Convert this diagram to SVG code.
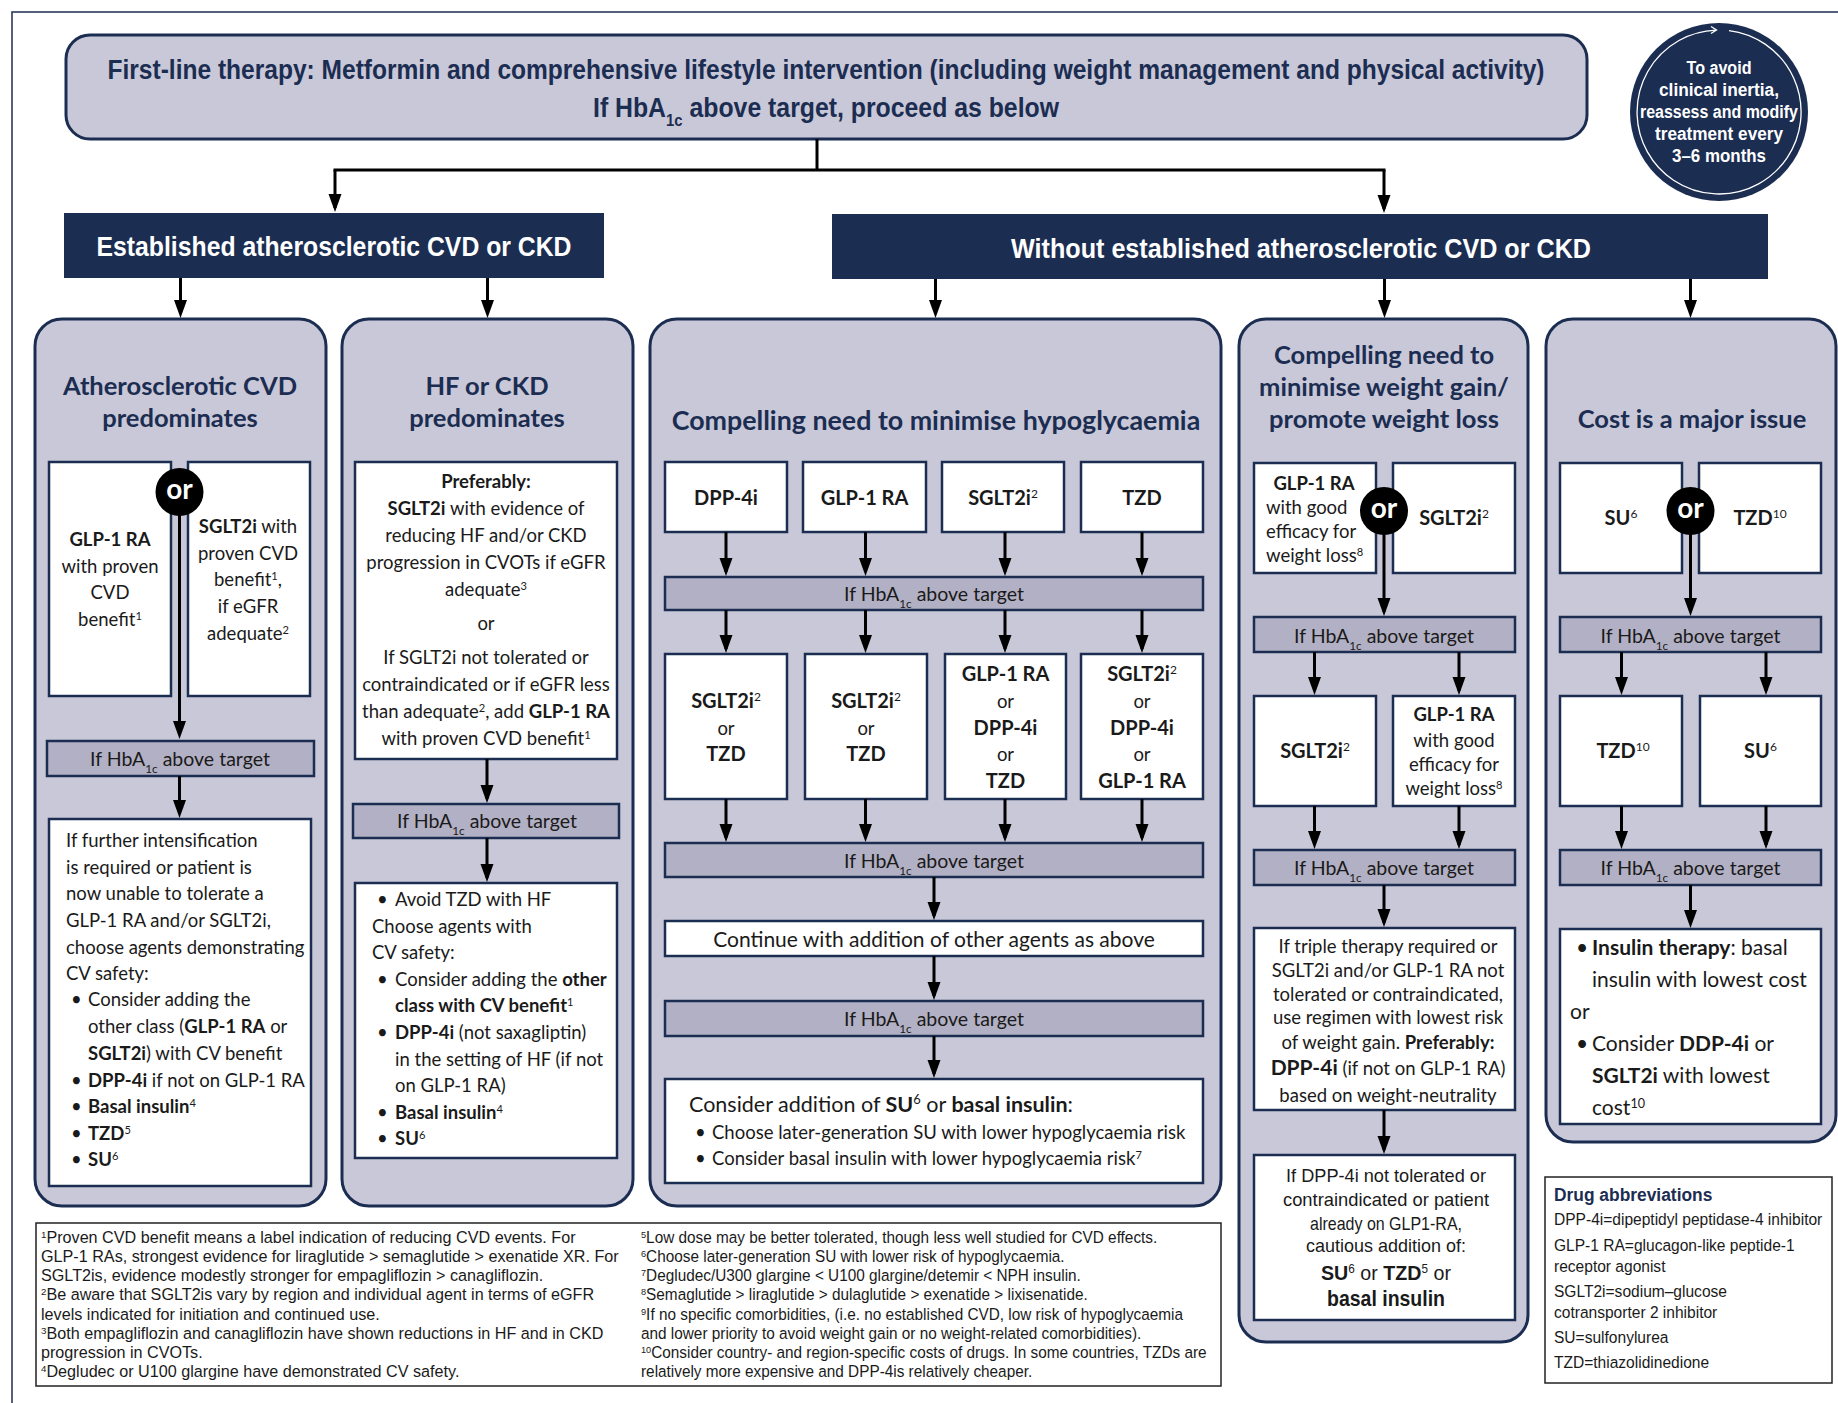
<svg xmlns="http://www.w3.org/2000/svg" width="1838" height="1403" viewBox="0 0 1838 1403">
<defs>
<style>
.frame{fill:none;stroke:#1c2d52;stroke-width:1.5}
.panel{fill:#c9c8d8;stroke:#1c2d52;stroke-width:3}
.bar{fill:#b2b0c4;stroke:#1c2d52;stroke-width:2.5}
.box{fill:#fff;stroke:#1c2d52;stroke-width:2.5}
.hdr{fill:#1c2d52}
.note{fill:#fff;stroke:#222;stroke-width:1.5}
.orc{fill:#000}
.ln{fill:none;stroke:#000;stroke-width:3}
.ar{fill:none;stroke:#000;stroke-width:3;marker-end:url(#ah)}
text{font-family:Lato,"Liberation Sans",sans-serif;fill:#1a1a1a}
.c{font-family:"Liberation Sans",Arial,sans-serif}
.m{text-anchor:middle}
.b{font-weight:bold}
.nv{fill:#1c2d52}
.w{fill:#fff}
.ttl{font-size:25.5px;font-weight:bold;fill:#1c2d52;text-anchor:middle}
.t{font-size:18.5px}
.dr{font-size:20px;font-weight:bold;text-anchor:middle}
.hb{font-size:19.5px;text-anchor:middle}
.or{font-size:28px;font-weight:bold;fill:#fff;text-anchor:middle}
.fn{font-size:16.5px}
.ab{font-size:17px}
.sup{font-size:0.6em;baseline-shift:super}
.sub{font-size:0.6em;baseline-shift:sub}
</style>
<marker id="ah" markerUnits="userSpaceOnUse" markerWidth="18" markerHeight="14" viewBox="0 0 18 14" refX="14" refY="7" orient="auto"><path d="M0,0.5 L18,7 L0,13.5 z" fill="#000"/></marker>
</defs>
<rect width="1838" height="1403" fill="#fff"/>
<path class="frame" d="M12,1403 V12 H1838"/>

<g id="first-line">
<rect x="66" y="35" width="1521" height="104" rx="24" class="panel"/>
<text class="c b m nv" x="826" y="79" font-size="27" textLength="1437" lengthAdjust="spacingAndGlyphs">First-line therapy: Metformin and comprehensive lifestyle intervention (including weight management and physical activity)</text>
<text class="c b m nv" x="826" y="117" font-size="27" textLength="466" lengthAdjust="spacingAndGlyphs">If HbA<tspan class="sub">1c</tspan> above target, proceed as below</text>
</g>

<g id="reassess">
<circle cx="1719" cy="112" r="89" fill="#1c2d52"/>
<path d="M1729,30.6 A82,82 0 1 1 1716.1,30.05" fill="none" stroke="#fff" stroke-width="1.3"/>
<path d="M1711,26.5 L1716.5,30 L1711,33.5" fill="none" stroke="#fff" stroke-width="1.3"/>
<text class="c b m w" font-size="17.5" x="1719" y="74" textLength="65" lengthAdjust="spacingAndGlyphs">To avoid</text>
<text class="c b m w" font-size="17.5" x="1719" y="96" textLength="120" lengthAdjust="spacingAndGlyphs">clinical inertia,</text>
<text class="c b m w" font-size="17.5" x="1719" y="118" textLength="158" lengthAdjust="spacingAndGlyphs">reassess and modify</text>
<text class="c b m w" font-size="17.5" x="1719" y="140" textLength="128" lengthAdjust="spacingAndGlyphs">treatment every</text>
<text class="c b m w" font-size="17.5" x="1719" y="162" textLength="94" lengthAdjust="spacingAndGlyphs">3–6 months</text>
</g>

<g id="established">
<rect x="64" y="213" width="540" height="65" class="hdr"/>
<text class="c b m w" font-size="28" x="334" y="256" textLength="475" lengthAdjust="spacingAndGlyphs">Established atherosclerotic CVD or CKD</text>
</g>
<g id="without">
<rect x="832" y="214" width="936" height="65" class="hdr"/>
<text class="c b m w" font-size="28" x="1301" y="258" textLength="580" lengthAdjust="spacingAndGlyphs">Without established atherosclerotic CVD or CKD</text>
</g>

<!-- Panel 1 -->
<g id="ascvd">
<rect x="35" y="319" width="291" height="887" rx="27" class="panel"/>
<text class="ttl" x="180" y="395">Atherosclerotic CVD</text>
<text class="ttl" x="180" y="427">predominates</text>
</g>
<g id="ascvd-glp1">
<rect x="49" y="462" width="122" height="234" class="box"/>
<text class="t m b" x="110" y="546">GLP-1 RA</text>
<text class="t m" x="110" y="573">with proven</text>
<text class="t m" x="110" y="599">CVD</text>
<text class="t m" x="110" y="626">benefit<tspan class="sup">1</tspan></text>
</g>
<g id="ascvd-sglt2">
<rect x="188" y="462" width="122" height="234" class="box"/>
<text class="t m" x="248" y="533"><tspan class="b">SGLT2i</tspan> with</text>
<text class="t m" x="248" y="560">proven CVD</text>
<text class="t m" x="248" y="586">benefit<tspan class="sup">1</tspan>,</text>
<text class="t m" x="248" y="613">if eGFR</text>
<text class="t m" x="248" y="640">adequate<tspan class="sup">2</tspan></text>
</g>
<g id="ascvd-if">
<rect x="47" y="741" width="267" height="35" class="bar"/>
<text class="hb" x="180" y="766">If HbA<tspan class="sub">1c</tspan> above target</text>
</g>
<g id="ascvd-next">
<rect x="49" y="819" width="262" height="367" class="box"/>
<text class="t" x="66" y="847">If further intensification</text>
<text class="t" x="66" y="874">is required or patient is</text>
<text class="t" x="66" y="900">now unable to tolerate a</text>
<text class="t" x="66" y="927">GLP-1 RA and/or SGLT2i,</text>
<text class="t" x="66" y="954">choose agents demonstrating</text>
<text class="t" x="66" y="980">CV safety:</text>
<text class="t" x="71" y="1006">•</text><text class="t" x="88" y="1006">Consider adding the</text>
<text class="t" x="88" y="1033">other class (<tspan class="b">GLP-1 RA</tspan> or</text>
<text class="t" x="88" y="1060"><tspan class="b">SGLT2i</tspan>) with CV benefit</text>
<text class="t" x="71" y="1087">•</text><text class="t" x="88" y="1087"><tspan class="b">DPP-4i</tspan> if not on GLP-1 RA</text>
<text class="t" x="71" y="1113">•</text><text class="t" x="88" y="1113"><tspan class="b">Basal insulin</tspan><tspan class="sup">4</tspan></text>
<text class="t" x="71" y="1140">•</text><text class="t" x="88" y="1140"><tspan class="b">TZD</tspan><tspan class="sup">5</tspan></text>
<text class="t" x="71" y="1166">•</text><text class="t" x="88" y="1166"><tspan class="b">SU</tspan><tspan class="sup">6</tspan></text>
</g>

<!-- Panel 2 -->
<g id="hfckd">
<rect x="342" y="319" width="291" height="887" rx="27" class="panel"/>
<text class="ttl" x="487" y="395">HF or CKD</text>
<text class="ttl" x="487" y="427">predominates</text>
</g>
<g id="hfckd-pref">
<rect x="355" y="462" width="262" height="297" class="box"/>
<text class="t m b" x="486" y="488">Preferably:</text>
<text class="t m" x="486" y="515"><tspan class="b">SGLT2i</tspan> with evidence of</text>
<text class="t m" x="486" y="542">reducing HF and/or CKD</text>
<text class="t m" x="486" y="569">progression in CVOTs if eGFR</text>
<text class="t m" x="486" y="596">adequate<tspan class="sup">3</tspan></text>
<text class="t m" x="486" y="630">or</text>
<text class="t m" x="486" y="664">If SGLT2i not tolerated or</text>
<text class="t m" x="486" y="691">contraindicated or if eGFR less</text>
<text class="t m" x="486" y="718">than adequate<tspan class="sup">2</tspan>, add <tspan class="b">GLP-1 RA</tspan></text>
<text class="t m" x="486" y="745">with proven CVD benefit<tspan class="sup">1</tspan></text>
</g>
<g id="hfckd-if">
<rect x="353" y="804" width="266" height="34" class="bar"/>
<text class="hb" x="487" y="828">If HbA<tspan class="sub">1c</tspan> above target</text>
</g>
<g id="hfckd-next">
<rect x="355" y="883" width="262" height="275" class="box"/>
<text class="t" x="377" y="906">•</text><text class="t" x="395" y="906">Avoid TZD with HF</text>
<text class="t" x="372" y="933">Choose agents with</text>
<text class="t" x="372" y="959">CV safety:</text>
<text class="t" x="377" y="986">•</text><text class="t" x="395" y="986">Consider adding the <tspan class="b">other</tspan></text>
<text class="t b" x="395" y="1012">class with CV benefit<tspan class="sup" font-weight="normal">1</tspan></text>
<text class="t" x="377" y="1039">•</text><text class="t" x="395" y="1039"><tspan class="b">DPP-4i</tspan> (not saxagliptin)</text>
<text class="t" x="395" y="1066">in the setting of HF (if not</text>
<text class="t" x="395" y="1092">on GLP-1 RA)</text>
<text class="t" x="377" y="1119">•</text><text class="t" x="395" y="1119"><tspan class="b">Basal insulin</tspan><tspan class="sup">4</tspan></text>
<text class="t" x="377" y="1145">•</text><text class="t" x="395" y="1145"><tspan class="b">SU</tspan><tspan class="sup">6</tspan></text>
</g>

<!-- Panel 3 -->
<g id="hypo">
<rect x="650" y="319" width="571" height="887" rx="27" class="panel"/>
<text class="ttl" x="936" y="430" style="font-size:26.8px">Compelling need to minimise hypoglycaemia</text>
</g>
<g id="hypo-dpp4"><rect x="665" y="462" width="122" height="70" class="box"/><text class="dr" x="726" y="505">DPP-4i</text></g>
<g id="hypo-glp1"><rect x="803" y="462" width="123" height="70" class="box"/><text class="dr" x="864.5" y="505">GLP-1 RA</text></g>
<g id="hypo-sglt2"><rect x="942" y="462" width="122" height="70" class="box"/><text class="dr" x="1003" y="505">SGLT2i<tspan class="sup" font-weight="normal">2</tspan></text></g>
<g id="hypo-tzd"><rect x="1081" y="462" width="122" height="70" class="box"/><text class="dr" x="1142" y="505">TZD</text></g>
<g id="hypo-if1"><rect x="665" y="577" width="538" height="33" class="bar"/><text class="hb" x="934" y="601">If HbA<tspan class="sub">1c</tspan> above target</text></g>
<g id="hypo-r2a"><rect x="665" y="654" width="122" height="145" class="box"/>
<text class="dr" x="726" y="708">SGLT2i<tspan class="sup" font-weight="normal">2</tspan></text><text class="t m" x="726" y="735">or</text><text class="dr" x="726" y="761">TZD</text></g>
<g id="hypo-r2b"><rect x="805" y="654" width="122" height="145" class="box"/>
<text class="dr" x="866" y="708">SGLT2i<tspan class="sup" font-weight="normal">2</tspan></text><text class="t m" x="866" y="735">or</text><text class="dr" x="866" y="761">TZD</text></g>
<g id="hypo-r2c"><rect x="945" y="654" width="121" height="145" class="box"/>
<text class="dr" x="1005.5" y="681">GLP-1 RA</text><text class="t m" x="1005.5" y="708">or</text><text class="dr" x="1005.5" y="735">DPP-4i</text><text class="t m" x="1005.5" y="761">or</text><text class="dr" x="1005.5" y="788">TZD</text></g>
<g id="hypo-r2d"><rect x="1081" y="654" width="122" height="145" class="box"/>
<text class="dr" x="1142" y="681">SGLT2i<tspan class="sup" font-weight="normal">2</tspan></text><text class="t m" x="1142" y="708">or</text><text class="dr" x="1142" y="735">DPP-4i</text><text class="t m" x="1142" y="761">or</text><text class="dr" x="1142" y="788">GLP-1 RA</text></g>
<g id="hypo-if2"><rect x="665" y="843" width="538" height="34" class="bar"/><text class="hb" x="934" y="868">If HbA<tspan class="sub">1c</tspan> above target</text></g>
<g id="hypo-continue"><rect x="665" y="921" width="538" height="35" class="box"/><text class="m" font-size="21" x="934" y="947">Continue with addition of other agents as above</text></g>
<g id="hypo-if3"><rect x="665" y="1001" width="538" height="35" class="bar"/><text class="hb" x="934" y="1026">If HbA<tspan class="sub">1c</tspan> above target</text></g>
<g id="hypo-final"><rect x="665" y="1079" width="538" height="104" class="box"/>
<text font-size="21.5" x="689" y="1112">Consider addition of <tspan class="b">SU</tspan><tspan class="sup">6</tspan> or <tspan class="b">basal insulin</tspan>:</text>
<text class="t" x="695" y="1139">•</text><text class="t" x="712" y="1139">Choose later-generation SU with lower hypoglycaemia risk</text>
<text class="t" x="695" y="1165">•</text><text class="t" x="712" y="1165">Consider basal insulin with lower hypoglycaemia risk<tspan class="sup">7</tspan></text>
</g>

<!-- Panel 4 -->
<g id="weight">
<rect x="1239" y="319" width="289" height="1023" rx="27" class="panel"/>
<text class="ttl" x="1384" y="364">Compelling need to</text>
<text class="ttl" x="1384" y="396">minimise weight gain/</text>
<text class="ttl" x="1384" y="428">promote weight loss</text>
</g>
<g id="weight-glp1"><rect x="1254" y="463" width="122" height="110" class="box"/>
<text class="t m b" x="1314" y="490">GLP-1 RA</text>
<text class="t" x="1266" y="514">with good</text>
<text class="t" x="1266" y="538">efficacy for</text>
<text class="t" x="1266" y="562">weight loss<tspan class="sup">8</tspan></text></g>
<g id="weight-sglt2"><rect x="1393" y="463" width="122" height="110" class="box"/><text class="dr" x="1454" y="525">SGLT2i<tspan class="sup" font-weight="normal">2</tspan></text></g>
<g id="weight-if1"><rect x="1254" y="617" width="261" height="35" class="bar"/><text class="hb" x="1384" y="643">If HbA<tspan class="sub">1c</tspan> above target</text></g>
<g id="weight-sglt2b"><rect x="1254" y="696" width="122" height="110" class="box"/><text class="dr" x="1315" y="758">SGLT2i<tspan class="sup" font-weight="normal">2</tspan></text></g>
<g id="weight-glp1b"><rect x="1393" y="696" width="122" height="110" class="box"/>
<text class="t m b" x="1454" y="721">GLP-1 RA</text>
<text class="t m" x="1454" y="747">with good</text>
<text class="t m" x="1454" y="771">efficacy for</text>
<text class="t m" x="1454" y="795">weight loss<tspan class="sup">8</tspan></text></g>
<g id="weight-if2"><rect x="1254" y="850" width="261" height="35" class="bar"/><text class="hb" x="1384" y="875">If HbA<tspan class="sub">1c</tspan> above target</text></g>
<g id="weight-triple"><rect x="1254" y="928" width="261" height="182" class="box"/>
<text class="t m" x="1388" y="953">If triple therapy required or</text>
<text class="t m" x="1388" y="977">SGLT2i and/or GLP-1 RA not</text>
<text class="t m" x="1388" y="1001">tolerated or contraindicated,</text>
<text class="t m" x="1388" y="1024">use regimen with lowest risk</text>
<text class="t m" x="1388" y="1049">of weight gain. <tspan class="b">Preferably:</tspan></text>
<text class="t m" x="1388" y="1075"><tspan class="b" font-size="21">DPP-4i</tspan> (if not on GLP-1 RA)</text>
<text class="t m" x="1388" y="1102">based on weight-neutrality</text></g>
<g id="weight-last"><rect x="1254" y="1155" width="261" height="165" class="box"/>
<text class="c m" font-size="19" x="1386" y="1182" textLength="200" lengthAdjust="spacingAndGlyphs">If DPP-4i not tolerated or</text>
<text class="c m" font-size="19" x="1386" y="1206" textLength="206" lengthAdjust="spacingAndGlyphs">contraindicated or patient</text>
<text class="c m" font-size="19" x="1386" y="1230" textLength="152" lengthAdjust="spacingAndGlyphs">already on GLP1-RA,</text>
<text class="c m" font-size="19" x="1386" y="1252" textLength="160" lengthAdjust="spacingAndGlyphs">cautious addition of:</text>
<text class="c m" font-size="21" x="1386" y="1280" textLength="130" lengthAdjust="spacingAndGlyphs"><tspan class="b">SU</tspan><tspan class="sup">6</tspan> or <tspan class="b">TZD</tspan><tspan class="sup">5</tspan> or</text>
<text class="c m b" font-size="22" x="1386" y="1306" textLength="118" lengthAdjust="spacingAndGlyphs">basal insulin</text></g>

<!-- Panel 5 -->
<g id="cost">
<rect x="1546" y="319" width="290" height="823" rx="27" class="panel"/>
<text class="ttl" x="1692" y="428">Cost is a major issue</text>
</g>
<g id="cost-su"><rect x="1560" y="463" width="122" height="110" class="box"/><text class="dr" x="1621" y="525">SU<tspan class="sup" font-weight="normal">6</tspan></text></g>
<g id="cost-tzd"><rect x="1699" y="463" width="122" height="110" class="box"/><text class="dr" x="1760" y="525">TZD<tspan class="sup" font-weight="normal">10</tspan></text></g>
<g id="cost-if1"><rect x="1560" y="617" width="261" height="35" class="bar"/><text class="hb" x="1690.5" y="643">If HbA<tspan class="sub">1c</tspan> above target</text></g>
<g id="cost-tzdb"><rect x="1560" y="696" width="122" height="110" class="box"/><text class="dr" x="1623" y="758">TZD<tspan class="sup" font-weight="normal">10</tspan></text></g>
<g id="cost-sub"><rect x="1700" y="696" width="121" height="110" class="box"/><text class="dr" x="1760.5" y="758">SU<tspan class="sup" font-weight="normal">6</tspan></text></g>
<g id="cost-if2"><rect x="1560" y="850" width="261" height="35" class="bar"/><text class="hb" x="1690.5" y="875">If HbA<tspan class="sub">1c</tspan> above target</text></g>
<g id="cost-last"><rect x="1560" y="929" width="261" height="195" class="box"/>
<text font-size="21" x="1576" y="955">•</text><text font-size="21" x="1592" y="955"><tspan class="b">Insulin therapy</tspan>: basal</text>
<text font-size="21" x="1592" y="987">insulin with lowest cost</text>
<text font-size="21" x="1570" y="1019">or</text>
<text font-size="21" x="1576" y="1051">•</text><text font-size="21" x="1592" y="1051">Consider <tspan class="b">DDP-4i</tspan> or</text>
<text font-size="21" x="1592" y="1083"><tspan class="b">SGLT2i</tspan> with lowest</text>
<text font-size="21" x="1592" y="1115">cost<tspan class="sup">10</tspan></text>
</g>

<!-- Connectors -->
<g id="connectors">
<path class="ln" d="M817,139 V170 M333.5,170 H1385.5"/>
<path class="ar" d="M335,170 V208"/>
<path class="ar" d="M1384,170 V209"/>
<path class="ar" d="M180.5,278 V314"/>
<path class="ar" d="M487.5,278 V314"/>
<path class="ar" d="M935.5,279 V314"/>
<path class="ar" d="M1384.5,279 V314"/>
<path class="ar" d="M1690.5,279 V314"/>
<path class="ar" d="M179.5,500 V735"/>
<path class="ar" d="M179.5,776 V814"/>
<path class="ar" d="M487,759 V799"/>
<path class="ar" d="M487,838 V878"/>
<path class="ar" d="M726,532 V572"/>
<path class="ar" d="M865.5,532 V572"/>
<path class="ar" d="M1005,532 V572"/>
<path class="ar" d="M1142,532 V572"/>
<path class="ar" d="M726,610 V649"/>
<path class="ar" d="M865.5,610 V649"/>
<path class="ar" d="M1005,610 V649"/>
<path class="ar" d="M1142,610 V649"/>
<path class="ar" d="M726,799 V838"/>
<path class="ar" d="M865.5,799 V838"/>
<path class="ar" d="M1005,799 V838"/>
<path class="ar" d="M1142,799 V838"/>
<path class="ar" d="M934,877 V916"/>
<path class="ar" d="M934,956 V996"/>
<path class="ar" d="M934,1036 V1074"/>
<path class="ar" d="M1384,520 V612"/>
<path class="ar" d="M1314.5,652 V691"/>
<path class="ar" d="M1459,652 V691"/>
<path class="ar" d="M1314.5,806 V845"/>
<path class="ar" d="M1459,806 V845"/>
<path class="ar" d="M1384,885 V923"/>
<path class="ar" d="M1384,1110 V1150"/>
<path class="ar" d="M1690.5,520 V612"/>
<path class="ar" d="M1621.5,652 V691"/>
<path class="ar" d="M1766,652 V691"/>
<path class="ar" d="M1621.5,806 V845"/>
<path class="ar" d="M1766,806 V845"/>
<path class="ar" d="M1690.5,885 V924"/>
</g>

<g id="or-ascvd"><circle class="orc" cx="179.5" cy="492" r="24"/><text class="or" x="179.5" y="499">or</text></g>
<g id="or-weight"><circle class="orc" cx="1384" cy="511" r="24"/><text class="or" x="1384" y="518">or</text></g>
<g id="or-cost"><circle class="orc" cx="1690.5" cy="511" r="24"/><text class="or" x="1690.5" y="518">or</text></g>

<g id="footnotes">
<rect x="36" y="1223" width="1185" height="163" class="note"/>
<g transform="translate(41,0) scale(0.98,1)">
<text class="c fn" x="0" y="1243"><tspan class="sup">1</tspan>Proven CVD benefit means a label indication of reducing CVD events. For</text>
<text class="c fn" x="0" y="1262">GLP-1 RAs, strongest evidence for liraglutide &gt; semaglutide &gt; exenatide XR. For</text>
<text class="c fn" x="0" y="1281">SGLT2is, evidence modestly stronger for empagliflozin &gt; canagliflozin.</text>
<text class="c fn" x="0" y="1300"><tspan class="sup">2</tspan>Be aware that SGLT2is vary by region and individual agent in terms of eGFR</text>
<text class="c fn" x="0" y="1320">levels indicated for initiation and continued use.</text>
<text class="c fn" x="0" y="1339"><tspan class="sup">3</tspan>Both empagliflozin and canagliflozin have shown reductions in HF and in CKD</text>
<text class="c fn" x="0" y="1358">progression in CVOTs.</text>
<text class="c fn" x="0" y="1377"><tspan class="sup">4</tspan>Degludec or U100 glargine have demonstrated CV safety.</text>
</g>
<g transform="translate(641,0) scale(0.93,1)">
<text class="c fn" x="0" y="1243"><tspan class="sup">5</tspan>Low dose may be better tolerated, though less well studied for CVD effects.</text>
<text class="c fn" x="0" y="1262"><tspan class="sup">6</tspan>Choose later-generation SU with lower risk of hypoglycaemia.</text>
<text class="c fn" x="0" y="1281"><tspan class="sup">7</tspan>Degludec/U300 glargine &lt; U100 glargine/detemir &lt; NPH insulin.</text>
<text class="c fn" x="0" y="1300"><tspan class="sup">8</tspan>Semaglutide &gt; liraglutide &gt; dulaglutide &gt; exenatide &gt; lixisenatide.</text>
<text class="c fn" x="0" y="1320"><tspan class="sup">9</tspan>If no specific comorbidities, (i.e. no established CVD, low risk of hypoglycaemia</text>
<text class="c fn" x="0" y="1339">and lower priority to avoid weight gain or no weight-related comorbidities).</text>
<text class="c fn" x="0" y="1358"><tspan class="sup">10</tspan>Consider country- and region-specific costs of drugs. In some countries, TZDs are</text>
<text class="c fn" x="0" y="1377">relatively more expensive and DPP-4is relatively cheaper.</text>
</g>
</g>

<g id="abbreviations">
<rect x="1545" y="1177" width="287" height="206" class="note"/>
<g transform="translate(1554,0) scale(0.915,1)">
<text class="c b nv" font-size="19" x="0" y="1201">Drug abbreviations</text>
<text class="c ab" x="0" y="1225">DPP-4i=dipeptidyl peptidase-4 inhibitor</text>
<text class="c ab" x="0" y="1251">GLP-1 RA=glucagon-like peptide-1</text>
<text class="c ab" x="0" y="1272">receptor agonist</text>
<text class="c ab" x="0" y="1297">SGLT2i=sodium–glucose</text>
<text class="c ab" x="0" y="1318">cotransporter 2 inhibitor</text>
<text class="c ab" x="0" y="1343">SU=sulfonylurea</text>
<text class="c ab" x="0" y="1368">TZD=thiazolidinedione</text>
</g>
</g>
</svg>
